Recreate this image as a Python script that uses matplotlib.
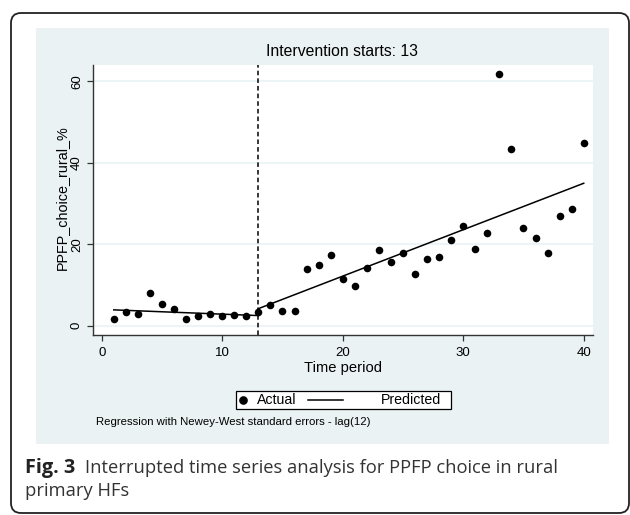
import matplotlib
matplotlib.use("Agg")
import matplotlib.pyplot as plt
from matplotlib.patches import Rectangle, FancyBboxPatch
from matplotlib.lines import Line2D
from matplotlib.transforms import IdentityTransform

# data
time_period = list(range(1, 41))
actual = [1.6, 3.3, 2.8, 8.1, 5.3, 4.1, 1.7, 2.4, 3.0, 2.5,
          2.6, 2.5, 3.3, 5.1, 3.7, 3.7, 13.9, 14.8, 17.5, 11.5,
          9.8, 14.1, 18.6, 15.6, 17.9, 12.6, 16.5, 17.0, 21.0, 24.6,
          18.8, 22.9, 61.8, 43.4, 23.9, 21.5, 17.9, 27.0, 28.8, 45.0]
# predicted segments (straight lines, endpoints only)
pre_t = [1, 13]
pre_pred = [3.9, 2.5]
post_t = [13, 40]
post_pred = [4.2, 35.0]
intervention = 13
xticks = [0, 10, 20, 30, 40]
yticks = [0, 20, 40, 60]

W, H = 630, 515
panel_col = "#eaf2f3"
arial = "Liberation Sans"


def fx(x):
    return x / W


def fy(y):
    # pixel from top -> figure fraction
    return 1 - y / H


fig = plt.figure(figsize=(W / 100, H / 100), dpi=100)
fig.patch.set_facecolor("white")

# outer rounded frame (pixel coords)
frame = FancyBboxPatch((11, H - 513), 618, 500, boxstyle="round,pad=0,rounding_size=10",
                       transform=IdentityTransform(), facecolor="none",
                       edgecolor="#222222", linewidth=1.3, zorder=-2)
fig.patches.append(frame)

# stata-ish light panel
panel = Rectangle((fx(36), fy(444)), 573 / W, 416 / H, transform=fig.transFigure,
                  facecolor=panel_col, edgecolor="none", zorder=-1)
fig.patches.append(panel)

ax = fig.add_axes([fx(92.7), fy(334.7), (593 - 92.7) / W, (334.7 - 65) / H])
ax.set_facecolor("white")

ax.scatter(time_period, actual, s=30, color="black", zorder=3, linewidths=0)
ax.plot(pre_t, pre_pred, color="black", lw=1.1, zorder=2)
ax.plot(post_t, post_pred, color="black", lw=1.1, zorder=2)
ax.axvline(intervention, color="black", lw=1.1, linestyle=(0, (3, 2)), zorder=2)

ax.set_xlim(-0.75, 40.77)
ax.set_ylim(-2.2, 64.05)
ax.set_xticks(xticks)
ax.set_yticks(yticks)
for yv in yticks:
    ax.axhline(yv, color=panel_col, lw=1.2, zorder=1)

for s in ["top", "right"]:
    ax.spines[s].set_visible(False)
for s in ["left", "bottom"]:
    ax.spines[s].set_color("#333333")
    ax.spines[s].set_linewidth(1.0)

ax.tick_params(axis="both", direction="out", length=4, width=0.9, color="#333333",
               labelsize=9.5, pad=3)
ax.tick_params(axis="x", pad=5)
for lbl in ax.get_xticklabels() + ax.get_yticklabels():
    lbl.set_fontfamily(arial)
for lbl in ax.get_yticklabels():
    lbl.set_rotation(90)
    lbl.set_verticalalignment("center")

ax.set_xlabel("Time period", fontfamily=arial, fontsize=10.6, labelpad=1.5)
ax.set_ylabel("PPFP_choice_rural_%", fontfamily=arial, fontsize=10.4)
ax.yaxis.set_label_coords((69 - 92.7) / (593 - 92.7), (334.7 - 198) / (334.7 - 65))

fig.text(fx(342), fy(52), "Intervention starts: 13", ha="center", va="center",
         fontfamily=arial, fontsize=11.3)

# legend box drawn like stata's
fig.patches.append(Rectangle((fx(236), fy(409)), 215 / W, 18 / H, transform=fig.transFigure,
                             facecolor="white", edgecolor="black", linewidth=0.9))
fig.add_artist(Line2D([fx(243.3)], [fy(400)], marker="o", markersize=5.2, color="black",
                      linestyle="none", transform=fig.transFigure))
fig.text(fx(256.5), fy(400.5), "Actual", ha="left", va="center", fontfamily=arial, fontsize=10.2)
fig.add_artist(Line2D([fx(308.3), fx(343.3)], [fy(400), fy(400)], color="black", lw=1.1,
                      transform=fig.transFigure))
fig.text(fx(380.5), fy(400.5), "Predicted", ha="left", va="center", fontfamily=arial,
         fontsize=10.2)

fig.text(fx(96), fy(422), "Regression with Newey-West standard errors - lag(12)",
         ha="left", va="center", fontfamily=arial, fontsize=8.2)

# figure caption
fig.text(fx(25), fy(468), "Fig. 3", ha="left", va="center", fontfamily="Open Sans",
         fontweight="bold", fontsize=14.3, color="#222222")
fig.text(fx(85), fy(468), "Interrupted time series analysis for PPFP choice in rural",
         ha="left", va="center", fontfamily="Open Sans", fontsize=13.2, color="#333333")
fig.text(fx(25), fy(491), "primary HFs", ha="left", va="center",
         fontfamily="Open Sans", fontsize=13.2, color="#333333")

fig.savefig("out.png", dpi=100)
